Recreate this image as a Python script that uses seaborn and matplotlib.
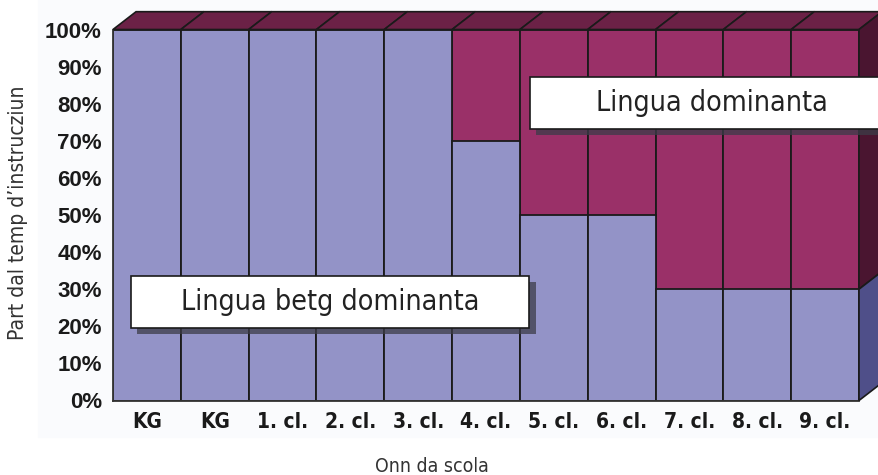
import numpy as np
import pandas as pd
import matplotlib
matplotlib.use("Agg")
import matplotlib.pyplot as plt
from matplotlib.patches import Polygon, Rectangle
from matplotlib import font_manager
import seaborn as sns

sns.set_style("white")

# look for a condensed face, else fall back to Roboto
fonts = font_manager.fontManager.ttflist
cond = [f for f in fonts if f.name == "DejaVu Sans" and "condensed" in str(f.stretch).lower()]
if cond:
    fam, stretch = "DejaVu Sans", "condensed"
else:
    fam, stretch = "Roboto", "normal"
plt.rcParams["font.family"] = [fam, "DejaVu Sans"]

# data
grades = ["KG", "KG", "1. cl.", "2. cl.", "3. cl.", "4. cl.", "5. cl.", "6. cl.", "7. cl.", "8. cl.", "9. cl."]
not_dominant = [100, 100, 100, 100, 100, 70, 50, 50, 30, 30, 30]   # Lingua betg dominanta
dominant = [0, 0, 0, 0, 0, 30, 50, 50, 70, 70, 70]                 # Lingua dominanta
yticks = [0, 10, 20, 30, 40, 50, 60, 70, 80, 90, 100]

df = pd.DataFrame({"pos": range(len(grades)), "grade": grades,
                   "low": not_dominant, "high": dominant})
df["total"] = df["low"] + df["high"]

lavender = "#9393c7"
maroon = "#9a3068"
top_col = "#6b2146"
side_maroon = "#4a1530"
side_blue = "#4f4f89"
line = "#1a1a1a"

fig = plt.figure(figsize=(8.79, 4.75), dpi=100)
fig.patches.append(Rectangle((38 / 879, 38 / 475), 1, 1, transform=fig.transFigure,
                             color="#fafbfd", zorder=-10))
ax = fig.add_axes([113 / 879, (475 - 400.5) / 475, 746 / 879, 371 / 475])
ax.patch.set_alpha(0)
renderer = fig.canvas.get_renderer()


def fit_width(txt, target_px):
    # scale the font so the text is as wide as in the reference
    w = txt.get_window_extent(renderer).width
    txt.set_fontsize(txt.get_fontsize() * target_px / w)


sns.barplot(data=df, x="pos", y="total", color=maroon, width=1, saturation=1,
            edgecolor=line, linewidth=1.3, errorbar=None, ax=ax)
sns.barplot(data=df, x="pos", y="low", color=lavender, width=1, saturation=1,
            edgecolor=line, linewidth=1.3, errorbar=None, ax=ax)

n = len(grades)
ax.set_xlim(-0.5, n - 0.5)
ax.set_ylim(0, 100)

# fake 3d depth: top faces and the right side
ddx, ddy = 0.34, 4.8
for i, t in zip(df["pos"], df["total"]):
    ax.add_patch(Polygon([(i - 0.5, t), (i + 0.5, t), (i + 0.5 + ddx, t + ddy), (i - 0.5 + ddx, t + ddy)],
                         closed=True, fc=top_col, ec=line, lw=1.2, clip_on=False, zorder=3))
xr = n - 0.5
lo, tot = df["low"].iloc[-1], df["total"].iloc[-1]
ax.add_patch(Polygon([(xr, lo), (xr, tot), (xr + ddx, tot + ddy), (xr + ddx, lo + ddy)],
                     closed=True, fc=side_maroon, ec=line, lw=1.2, clip_on=False, zorder=3))
ax.add_patch(Polygon([(xr, 0), (xr, lo), (xr + ddx, lo + ddy), (xr + ddx, ddy)],
                     closed=True, fc=side_blue, ec=line, lw=1.2, clip_on=False, zorder=3))

# axes
sns.despine(ax=ax, top=True, right=True)
for s in ["left", "bottom"]:
    ax.spines[s].set_color("#333333")
    ax.spines[s].set_linewidth(1.3)
ax.set_yticks(yticks, labels=[f"{v}%" for v in yticks])
ax.tick_params(axis="y", length=5, width=1.2, color="#333333", pad=3)
for lab in ax.get_yticklabels():
    lab.set_fontfamily(["Liberation Sans", "DejaVu Sans"])
    lab.set_fontweight("bold")
    lab.set_fontsize(16)
    lab.set_color("#1a1a1a")

ax.set_xticks(np.arange(-0.5, n, 1), labels=[""] * (n + 1))
ax.tick_params(axis="x", which="major", length=6, width=1.2, color="#333333")
ax.set_xticks(range(n), labels=grades, minor=True)
ax.tick_params(axis="x", which="minor", length=0, pad=8)
for lab in ax.get_xticklabels(minor=True):
    lab.set_fontweight("bold")
    lab.set_fontstretch(stretch)
    lab.set_fontsize(15)
    lab.set_color("#1a1a1a")
ax.set_xlabel("")
ax.set_ylabel("")

ylab = fig.text(18 / 879, 1 - 213 / 475, "Part dal temp d\u2019instrucziun", rotation=90,
                ha="center", va="center", fontsize=14, color="#333333", fontstretch=stretch)
xlab = fig.text(432 / 879, 1 - 466 / 475, "Onn da scola", ha="center", va="center",
                fontsize=14, color="#333333", fontstretch=stretch)
ylab.set_fontsize(ylab.get_fontsize() * 255 / ylab.get_window_extent(renderer).height)
fit_width(xlab, 114)


# legend boxes with shadow
def label_box(x0, x1, y0, y1, text, width_px):
    sx, sy = 0.09, -1.6
    ax.add_patch(Rectangle((x0 + sx, y0 + sy), x1 - x0, y1 - y0, fc="#3c3c48", ec="none",
                           alpha=0.75, clip_on=False, zorder=4))
    ax.add_patch(Rectangle((x0, y0), x1 - x0, y1 - y0, fc="white", ec=line, lw=1.2,
                           clip_on=False, zorder=5))
    t = ax.text((x0 + x1) / 2, (y0 + y1) / 2, text, ha="center", va="center",
                fontsize=24, color="#222222", zorder=6, clip_on=False, fontstretch=stretch)
    fit_width(t, width_px)


label_box(-0.235, 5.64, 19.5, 33.6, "Lingua betg dominanta", 300)
label_box(5.65, 11.0, 73.2, 87.2, "Lingua dominanta", 233)

fig.savefig("out.png", dpi=100)
